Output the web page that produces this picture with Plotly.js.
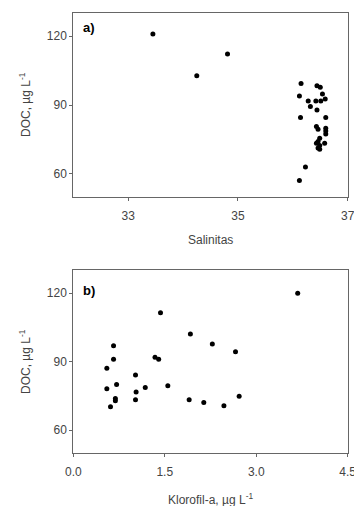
<!DOCTYPE html>
<html>
<head>
<meta charset="utf-8">
<script src="https://cdn.plot.ly/plotly-3.0.1.min.js"></script>
<style>html,body{margin:0;padding:0;background:#fff;}#chart{width:354px;height:506px;}</style>
</head>
<body>
<div id="chart"></div>
<script>
// Panel a) Salinitas vs DOC
var salinitas = [33.45, 34.25, 34.81, 36.15, 36.12, 36.14, 36.23, 36.12, 36.44, 36.50, 36.54, 36.59, 36.28, 36.32, 36.42, 36.51, 36.44, 36.60, 36.43, 36.46, 36.60, 36.60, 36.60, 36.49, 36.46, 36.43, 36.58, 36.49, 36.46, 36.49];
var docA      = [121.0, 102.8, 112.3, 99.4, 93.9, 84.6, 63.0, 57.1, 98.4, 97.7, 94.8, 92.6, 91.7, 89.3, 91.7, 91.7, 87.8, 84.6, 80.6, 79.4, 79.9, 78.7, 77.4, 75.5, 74.1, 73.3, 73.3, 72.3, 71.2, 70.7];
// Panel b) Klorofil-a vs DOC
var klorofil = [0.55, 0.55, 0.61, 0.66, 0.66, 0.71, 0.69, 0.69, 1.02, 1.02, 1.03, 1.18, 1.34, 1.40, 1.43, 1.55, 1.90, 1.92, 2.14, 2.28, 2.47, 2.66, 2.72, 3.68];
var docB     = [87.1, 78.1, 70.3, 97.0, 91.0, 80.0, 73.9, 72.9, 84.1, 73.3, 76.7, 78.7, 91.9, 91.0, 111.4, 79.4, 73.3, 102.1, 72.1, 97.7, 70.7, 94.3, 74.9, 120.0];
var yTicks = [60, 90, 120];
var xTicksA = [33, 35, 37];
var xTicksB = [0, 1.5, 3.0, 4.5];

var W = 354, H = 506;
function fx(p){return p/W;}
function fy(p){return 1 - p/H;}

var marker = {color:'#000', size:5, symbol:'circle'};
var traces = [
  {x:salinitas, y:docA, type:'scatter', mode:'markers', marker:marker, xaxis:'x', yaxis:'y', hoverinfo:'none'},
  {x:klorofil, y:docB, type:'scatter', mode:'markers', marker:marker, xaxis:'x2', yaxis:'y2', hoverinfo:'none'}
];

var tickFont = {family:'Liberation Sans, Arial, sans-serif', size:12, color:'#444'};
var lineCol = '#666';
function axBase(){
  return {showgrid:false, zeroline:false, showline:true, mirror:true, linecolor:lineCol, linewidth:1,
    ticks:'outside', ticklen:3, tickcolor:lineCol, tickfont:tickFont, fixedrange:true, ticklabeloverflow:'allow'};
}
var xa = Object.assign(axBase(), {domain:[fx(73.3), fx(347.7)], range:[32, 37], tickvals:xTicksA, ticktext:xTicksA.map(String), anchor:'y', ticklabelstandoff:5});
var ya = Object.assign(axBase(), {domain:[fy(196.7), fy(13.3)], range:[50, 130], tickvals:yTicks, anchor:'x', ticklabelstandoff:0});
var xb = Object.assign(axBase(), {domain:[fx(73.3), fx(347.7)], range:[0, 4.5], tickvals:xTicksB, ticktext:xTicksB.map(function(v){return v.toFixed(1);}), anchor:'y2', ticklabelstandoff:5});
var yb = Object.assign(axBase(), {domain:[fy(453), fy(270.3)], range:[50, 130], tickvals:yTicks, anchor:'x2', ticklabelstandoff:0});

var titleFont = {family:'Liberation Sans, Arial, sans-serif', size:12, color:'#444'};
var labelFont = {family:'Liberation Sans, Arial, sans-serif', size:13, color:'#000'};
var annotations = [
  {text:'DOC, µg L<sup>-1</sup>', xref:'paper', yref:'paper', x:fx(25), y:fy(105), textangle:-90, showarrow:false, font:titleFont, xanchor:'center', yanchor:'middle'},
  {text:'DOC, µg L<sup>-1</sup>', xref:'paper', yref:'paper', x:fx(25), y:fy(362), textangle:-90, showarrow:false, font:titleFont, xanchor:'center', yanchor:'middle'},
  {text:'Salinitas', xref:'paper', yref:'paper', x:fx(210), y:fy(240), showarrow:false, font:titleFont, xanchor:'center', yanchor:'middle'},
  {text:'Klorofil-a, µg L<sup>-1</sup>', xref:'paper', yref:'paper', x:fx(210), y:fy(499), showarrow:false, font:titleFont, xanchor:'center', yanchor:'middle'},
  {text:'<b>a)</b>', xref:'paper', yref:'paper', x:fx(81), y:fy(27), showarrow:false, font:labelFont, xanchor:'left', yanchor:'middle'},
  {text:'<b>b)</b>', xref:'paper', yref:'paper', x:fx(81), y:fy(290), showarrow:false, font:labelFont, xanchor:'left', yanchor:'middle'}
];

var layout = {
  width:W, height:H, margin:{l:0, r:0, t:0, b:0}, showlegend:false,
  paper_bgcolor:'#fff', plot_bgcolor:'#fff',
  xaxis:xa, yaxis:ya, xaxis2:xb, yaxis2:yb, annotations:annotations
};
Plotly.newPlot('chart', traces, layout, {staticPlot:true, displayModeBar:false});
</script>
</body>
</html>
